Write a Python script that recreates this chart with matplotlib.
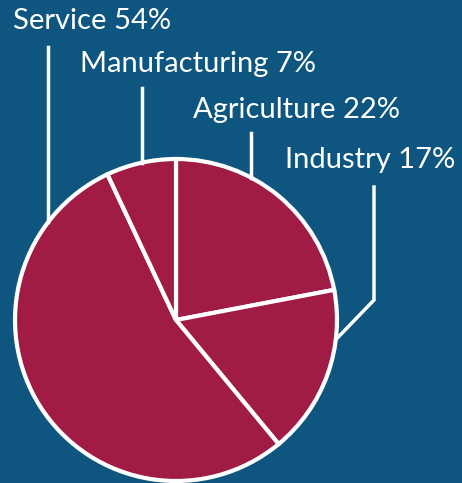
import numpy as np
import matplotlib
matplotlib.use("Agg")
import matplotlib.pyplot as plt

# Sector shares, in drawing order (clockwise from 12 o'clock)
sectors = ["Agriculture", "Industry", "Service", "Manufacturing"]
shares = [22, 17, 54, 7]

BG = "#0E5680"
WEDGE = "#A01C44"
W, H = 462, 483

fig = plt.figure(figsize=(W / 100, H / 100), dpi=100, facecolor=BG)
ax = fig.add_axes([0, 0, 1, 1])

cx, cy, r = 176, H - 320, 161
ax.pie(
    shares,
    startangle=90,
    counterclock=False,
    colors=[WEDGE] * len(shares),
    center=(cx, cy),
    radius=r,
    wedgeprops=dict(edgecolor="white", linewidth=3),
    frame=True,
)
ax.set_xlim(0, W)
ax.set_ylim(0, H)
ax.set_aspect("equal")
ax.axis("off")


def rim_y(x):
    # upper edge of the pie at a given x
    return cy + np.sqrt(r**2 - (x - cx) ** 2)


font = dict(family=["Lato", "DejaVu Sans"], fontsize=21, color="white", fontweight="normal")

# label text position (x, baseline from top) and leader x / top
label_pos = {
    "Service": (13, 29, 48, 47),
    "Manufacturing": (80, 72, 142, 88),
    "Agriculture": (193, 118, 251, 133),
    "Industry": (285, 168, 374, 187),
}

for name, pct in zip(sectors, shares):
    tx, ty, lx, ltop = label_pos[name]
    ax.text(tx, H - ty, f"{name} {pct}%", ha="left", va="baseline", **font)
    if name == "Industry":
        # elbow leader down to the right rim
        ang = np.deg2rad(-7)
        ex, ey = cx + r * np.cos(ang), cy + r * np.sin(ang)
        ax.plot([lx, lx, ex], [H - ltop, H - 300, ey], color="white", lw=2.5,
                solid_joinstyle="miter")
    else:
        ax.plot([lx, lx], [H - ltop, rim_y(lx)], color="white", lw=2.5)

fig.savefig("out.png", dpi=100, facecolor=BG)
